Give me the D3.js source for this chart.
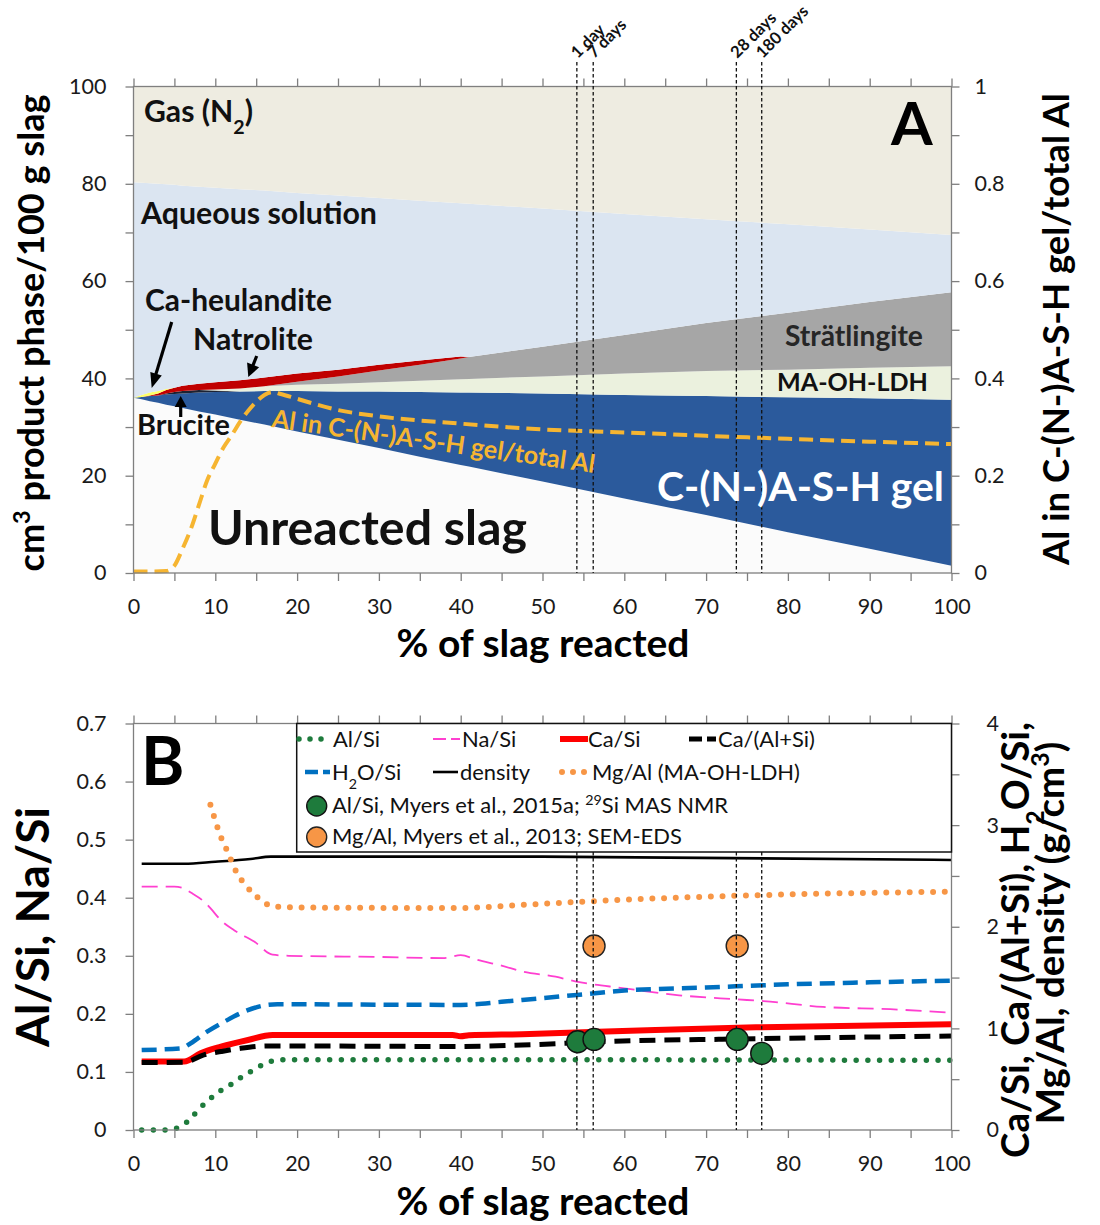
<!DOCTYPE html>
<html><head><meta charset="utf-8">
<script src="https://cdn.jsdelivr.net/npm/d3@7"></script>
<style>
body{margin:0;background:#fff}
svg{display:block}
text{font-family:Lato,'Open Sans',sans-serif}
</style>
</head><body>
<svg id="c" width="1100" height="1225"></svg>
<script>
// ---------------- DATA: panel A (cm3 / 100 g slag, stacked volumes) ----------------
const pctReacted    = [0,1,2,3,4,5,6,8,10,13,16,20,25,30,35,40,41,50,60,70,80,90,100];
const unreactedSlag = [36.0,35.7,35.3,35.0,34.6,34.3,33.9,33.2,32.6,31.5,30.5,29.1,27.4,25.7,23.9,22.2,21.9,18.8,15.3,11.9,8.4,5.0,1.5];
const cnashGel      = [0,0.5,1.1,1.5,2.1,2.5,3.0,3.9,4.6,5.8,6.9,8.3,9.9,11.6,13.3,14.9,15.2,18.1,21.3,24.5,27.7,30.9,34.1];
const brucite       = [0,0,0,0,0.2,0.4,0.5,0.5,0.3,0,0,0,0,0,0,0,0,0,0,0,0,0,0];
const maOhLdh       = [0,0,0,0,0,0,0,0,0.2,0.6,1.0,1.3,1.6,1.9,2.3,2.7,2.8,3.5,4.4,5.1,5.7,6.3,6.9];
const stratlingite  = [0,0,0,0,0,0,0,0,0,0,0,0.6,1.5,2.4,3.3,4.3,4.5,6.1,7.9,9.9,11.7,13.5,15.2];
const natrolite     = [0,0,0.1,0.4,0.7,0.9,1.1,1.3,1.5,1.7,1.8,1.7,1.4,1.2,0.9,0.4,0,0,0,0,0,0,0];
const caHeulandite  = [0,0.4,0.6,0.5,0.2,0,0,0,0,0,0,0,0,0,0,0,0,0,0,0,0,0,0];
const aqueousSol    = [44.3,43.6,43.0,42.6,42.1,41.7,41.1,40.5,40.0,39.3,38.4,37.1,35.8,34.3,32.8,31.5,31.5,28.4,24.9,21.3,18.2,14.9,11.8];
const gasN2         = [19.7,19.8,19.9,20.0,20.1,20.2,20.4,20.6,20.8,21.1,21.4,21.9,22.4,22.9,23.5,24.0,24.1,25.1,26.2,27.3,28.3,29.4,30.5];

// Al in C-(N-)A-S-H gel / total Al (right axis)
const alFracX = [0,2,4,5,6,7,8,9,10,11,12,13,14,15,16,17,18,20,25,30,40,50,60,70,80,90,100];
const alFracY = [0.003,0.003,0.004,0.015,0.05,0.09,0.14,0.19,0.225,0.258,0.283,0.31,0.333,0.352,0.366,0.372,0.368,0.358,0.335,0.322,0.307,0.295,0.289,0.282,0.276,0.27,0.265];

// curing times
const dayPct    = [54.2,56.2,73.7,76.8];
const dayLabels = ['1 day','7 days','28 days','180 days'];

// ---------------- DATA: panel B ----------------
const alSiX = [1,4,5,6,7,8,9,10,11,12,13,14,15,16,17,18,40,100];
const alSiY = [0,0,0.002,0.008,0.02,0.036,0.049,0.061,0.071,0.079,0.089,0.098,0.106,0.114,0.119,0.121,0.121,0.12];
const naSiX = [1,5,6,7,8.8,9.4,10.7,12.3,14.8,17,19,30,38,40,42,45,47.5,51.6,54,60,66.7,73.7,77,84.3,92.5,100];
const naSiY = [0.419,0.419,0.417,0.409,0.391,0.382,0.361,0.344,0.324,0.302,0.3,0.298,0.296,0.301,0.293,0.283,0.273,0.264,0.256,0.244,0.232,0.225,0.222,0.212,0.208,0.202];
const h2oSiX = [1,5.8,7,9,11.1,13.5,16.4,17.6,40,45,47.5,54.2,60,70,80,90,100];
const h2oSiY = [0.787,0.804,0.854,0.968,1.066,1.164,1.231,1.237,1.231,1.261,1.279,1.329,1.372,1.402,1.433,1.453,1.47];
const caSiX = [1,6.2,8.2,10.7,14,17,39,40,41,47.5,63.8,76.1,100];
const caSiY = [0.673,0.673,0.755,0.82,0.886,0.935,0.935,0.923,0.933,0.943,0.985,1.01,1.04];
const caAlSiX = [1,6.2,8.6,10.7,13.1,16.4,40,47.5,59.8,72,88.4,100];
const caAlSiY = [0.663,0.666,0.739,0.772,0.804,0.827,0.822,0.836,0.876,0.893,0.913,0.925];
const densX = [1,6.2,10,14.3,16.8,50,100];
const densY = [2.62,2.62,2.64,2.667,2.69,2.69,2.657];
const mgAlX = [9.4,9.9,10.3,10.9,11.5,12.1,12.7,13.5,14.6,15.8,17,20,35,40,47.5,59.8,76.1,100];
const mgAlY = [3.2,3.07,2.97,2.84,2.74,2.62,2.52,2.43,2.33,2.25,2.2,2.19,2.185,2.185,2.215,2.265,2.31,2.345];
// experimental points
const nmrX = [54.3,56.3,73.8,76.8];
const nmrAlSi = [0.152,0.156,0.156,0.132];
const edsX = [56.3,73.8];
const edsMgAl = [1.81,1.81];

// ---------------- DRAWING ----------------
const F = "Lato, 'Open Sans', sans-serif";
const svg = d3.select('#c');
svg.append('rect').attr('width',1100).attr('height',1225).attr('fill','#fff');

function fitLen(t, len){
  const l = t.node().getComputedTextLength();
  const fs = parseFloat(t.attr('font-size'));
  t.attr('font-size', (fs*len/l).toFixed(2));
  return parseFloat(t.attr('font-size'));
}
function label(g, txt, x, y, opts={}){
  const t = g.append('text').attr('x',x).attr('y',y).attr('font-family',F)
    .attr('font-size',opts.size||20).attr('font-weight',opts.weight||'bold')
    .attr('fill',opts.fill||'#111').attr('text-anchor',opts.anchor||'start');
  if (opts.rot!==undefined) t.attr('transform',`rotate(${opts.rot},${x},${y})`);
  if (Array.isArray(txt)) {
    txt.forEach(p=>{
      const s = t.append('tspan').text(p.t);
      if (p.sub) s.attr('font-size','0.65em').attr('baseline-shift','sub');
      if (p.sup) s.attr('font-size','0.65em').attr('baseline-shift','super');
    });
  } else t.text(txt);
  if (opts.len) fitLen(t, opts.len);
  return t;
}
function arrow(g,x1,y1,x2,y2,w,hl,hw){
  const dx=x2-x1, dy=y2-y1, L=Math.hypot(dx,dy), ux=dx/L, uy=dy/L;
  const bx=x2-ux*hl, by=y2-uy*hl;
  g.append('line').attr('x1',x1).attr('y1',y1).attr('x2',bx+ux*1).attr('y2',by+uy*1)
    .attr('stroke','#000').attr('stroke-width',w);
  g.append('path').attr('d',`M${x2},${y2}L${bx-uy*hw/2},${by+ux*hw/2}L${bx+uy*hw/2},${by-ux*hw/2}Z`).attr('fill','#000');
}
function styleAxis(a, fs){
  a.select('.domain').remove();
  a.selectAll('.tick line').attr('stroke','#7f7f7f').attr('stroke-width',1.3);
  a.selectAll('.tick text').attr('font-family',F).attr('font-size',fs).attr('fill','#1a1a1a');
}

const x = d3.scaleLinear().domain([0,100]).range([133.5,951.5]);

// ===== Panel A =====
const yA  = d3.scaleLinear().domain([0,100]).range([573,86.5]);
const yAR = d3.scaleLinear().domain([0,1]).range([573,86.5]);
const gA = svg.append('g');

const rowsA = pctReacted.map((p,i)=>({p, slag:unreactedSlag[i], gel:cnashGel[i], bru:brucite[i],
  ldh:maOhLdh[i], strat:stratlingite[i], natro:natrolite[i], heul:caHeulandite[i], aq:aqueousSol[i], gas:gasN2[i]}));
const keysA = ['slag','gel','bru','ldh','strat','natro','heul','aq','gas'];
const colA = {slag:'#fbfbfb', gel:'#2b5a9c', bru:'#1c2233', ldh:'#ebf1de', strat:'#a6a6a6',
  natro:'#c00000', heul:'#ffff66', aq:'#dbe5f1', gas:'#eeece1'};
const stacked = d3.stack().keys(keysA)(rowsA);
const areaA = d3.area().x(d=>x(d.data.p)).y0(d=>yA(d[0])).y1(d=>yA(d[1]));
gA.selectAll('path.layer').data(stacked).join('path').attr('class','layer')
  .attr('d',areaA).attr('fill',d=>colA[d.key]);

// Al fraction dashed line
gA.append('path').datum(alFracX.map((p,i)=>[p,alFracY[i]]))
  .attr('d', d3.line().x(d=>x(d[0])).y(d=>yAR(d[1])).curve(d3.curveMonotoneX))
  .attr('fill','none').attr('stroke','#f6b531').attr('stroke-width',4).attr('stroke-dasharray','14,7');

// axes A
styleAxis(gA.append('g').attr('transform','translate(0,573)')
  .call(d3.axisBottom(x).tickValues(d3.range(0,101,5)).tickSize(8).tickPadding(18)
  .tickFormat(d=> d%10===0 ? d : '')), 21.5);
styleAxis(gA.append('g').attr('transform','translate(0,86.5)')
  .call(d3.axisTop(x).tickValues(d3.range(0,101,5)).tickSize(8).tickFormat('')), 21.5);
styleAxis(gA.append('g').attr('transform','translate(133.5,0)')
  .call(d3.axisLeft(yA).tickValues(d3.range(0,101,10)).tickSize(8).tickPadding(19)
  .tickFormat(d=> d%20===0 ? d : '')), 21.5);
styleAxis(gA.append('g').attr('transform','translate(951.5,0)')
  .call(d3.axisRight(yAR).tickValues(d3.range(0,11).map(i=>i/10)).tickSize(8).tickPadding(15)
  .tickFormat(d=> { const k=Math.round(d*10); return k%2===0 ? (k===0?'0':k===10?'1':d.toFixed(1)) : ''; })), 21.5);
gA.append('rect').attr('x',133.5).attr('y',86.5).attr('width',818).attr('height',486.5)
  .attr('fill','none').attr('stroke','#7f7f7f').attr('stroke-width',1.3);

// day lines A
dayPct.forEach((d,i)=>{
  gA.append('line').attr('x1',x(d)).attr('x2',x(d)).attr('y1',62).attr('y2',573)
    .attr('stroke','#111').attr('stroke-width',1.3).attr('stroke-dasharray','3.5,2.5');
  label(gA, dayLabels[i], x(d)+1, 59, {size:16.5, rot:-45, fill:'#111'});
});

// labels in panel A
label(gA, [{t:'Gas (N'},{t:'2',sub:true},{t:')'}], 144, 122, {size:26, len:109});
label(gA, 'Aqueous solution', 141, 224, {size:26, len:236});
label(gA, 'Ca-heulandite', 145, 311, {size:26, len:187});
label(gA, 'Natrolite', 193, 350, {size:26, len:120});
label(gA, 'Brucite', 137, 435, {size:26, len:93});
label(gA, 'Strätlingite', 785, 346, {size:22, len:138, fill:'#262626'});
label(gA, 'MA-OH-LDH', 777, 391, {size:22, len:151, fill:'#111'});
label(gA, 'Al in C-(N-)A-S-H gel/total Al', 271, 427, {size:19, len:326, fill:'#f6b531', rot:8.1});
label(gA, 'C-(N-)A-S-H gel', 657, 501, {size:38, len:287, fill:'#fff'});
label(gA, 'Unreacted slag', 208, 545, {size:40, len:319, fill:'#111'});
label(gA, 'A', 891, 145, {size:60, fill:'#000'});

arrow(gA, 171.7, 322, 151.7, 388, 3.2, 15, 12);
arrow(gA, 256.7, 356, 248.3, 377, 3.2, 13, 13);
arrow(gA, 180.7, 417, 180.7, 396, 3.2, 11, 12);

// axis titles A
label(svg, [{t:'cm'},{t:'3',sup:true},{t:' product phase/100 g slag'}], 44, 333, {size:31, len:477, anchor:'middle', rot:-90, fill:'#000'});
label(svg, 'Al in C-(N-)A-S-H gel/total Al', 1069, 329, {size:31, len:472, anchor:'middle', rot:-90, fill:'#000'});
label(svg, '% of slag reacted', 543, 657, {size:31, len:293, anchor:'middle', fill:'#000'});

// ===== Panel B =====
const yB  = d3.scaleLinear().domain([0,0.7]).range([1130,723.5]);
const yBR = d3.scaleLinear().domain([0,4]).range([1130,723.5]);
const gB = svg.append('g');

const seriesB = [
  {xs:densX,  ys:densY,   sc:yBR, color:'#000',    w:2.6, dash:null},
  {xs:mgAlX,  ys:mgAlY,   sc:yBR, color:'#f79646', w:6,   dash:'0,11.7', cap:'round'},
  {xs:naSiX,  ys:naSiY,   sc:yB,  color:'#ff3fd0', w:1.8, dash:'16,8'},
  {xs:h2oSiX, ys:h2oSiY,  sc:yBR, color:'#0070c0', w:4.5, dash:'15,8'},
  {xs:caSiX,  ys:caSiY,   sc:yBR, color:'#ff0000', w:6,   dash:null},
  {xs:caAlSiX,ys:caAlSiY, sc:yBR, color:'#000',    w:5,   dash:'16,9'},
  {xs:alSiX,  ys:alSiY,   sc:yB,  color:'#1e7b3c', w:5.5, dash:'0,11.7', cap:'round'}
];
seriesB.forEach(s=>{
  gB.append('path').datum(s.xs.map((p,i)=>[p,s.ys[i]]))
    .attr('d', d3.line().x(d=>x(d[0])).y(d=>s.sc(d[1])).curve(d3.curveMonotoneX))
    .attr('fill','none').attr('stroke',s.color).attr('stroke-width',s.w)
    .attr('stroke-dasharray',s.dash).attr('stroke-linecap',s.cap||'butt');
});

// axes B
styleAxis(gB.append('g').attr('transform','translate(0,1130)')
  .call(d3.axisBottom(x).tickValues(d3.range(0,101,5)).tickSize(8).tickPadding(18)
  .tickFormat(d=> d%10===0 ? d : '')), 21.5);
styleAxis(gB.append('g').attr('transform','translate(0,723.5)')
  .call(d3.axisTop(x).tickValues(d3.range(0,101,5)).tickSize(8).tickFormat('')), 21.5);
styleAxis(gB.append('g').attr('transform','translate(133.5,0)')
  .call(d3.axisLeft(yB).tickValues(d3.range(0,8).map(i=>i/10)).tickSize(8).tickPadding(19)
  .tickFormat(d=> d===0?'0':d.toFixed(1))), 21.5);
styleAxis(gB.append('g').attr('transform','translate(951.5,0)')
  .call(d3.axisRight(yBR).tickValues(d3.range(0,9).map(i=>i/2)).tickSize(8).tickPadding(27)
  .tickFormat(d=> Number.isInteger(d) ? d : '')), 21.5);
gB.append('rect').attr('x',133.5).attr('y',723.5).attr('width',818).attr('height',406.5)
  .attr('fill','none').attr('stroke','#7f7f7f').attr('stroke-width',1.3);

// experimental points and day lines
gB.selectAll('circle.eds').data(edsX).join('circle').attr('class','eds')
  .attr('cx',d=>x(d)).attr('cy',(d,i)=>yBR(edsMgAl[i])).attr('r',11)
  .attr('fill','#f79646').attr('stroke','#222').attr('stroke-width',1.4);
dayPct.forEach(d=>{
  gB.append('line').attr('x1',x(d)).attr('x2',x(d)).attr('y1',852).attr('y2',1130)
    .attr('stroke','#111').attr('stroke-width',1.3).attr('stroke-dasharray','3.5,2.5');
});
gB.selectAll('circle.nmr').data(nmrX).join('circle').attr('class','nmr')
  .attr('cx',d=>x(d)).attr('cy',(d,i)=>yB(nmrAlSi[i])).attr('r',11)
  .attr('fill','#1e7b3c').attr('stroke','#111').attr('stroke-width',1.4);

// legend
const lg = gB.append('g');
lg.append('rect').attr('x',296.7).attr('y',723.5).attr('width',951.5-296.7).attr('height',852-723.5)
  .attr('fill','#fff').attr('stroke','#111').attr('stroke-width',1.5);
const lgFsEl = label(lg, 'Mg/Al (MA-OH-LDH)', 592, 780, {size:22, weight:'normal', fill:'#111', len:208});
const lfs = parseFloat(lgFsEl.attr('font-size'));
const legendItems = [
  {s:6, x0:299, x1:325, y:739, tx:333, ty:747, txt:[{t:'Al/Si'}]},
  {s:2, x0:433, x1:460, y:739, tx:462, ty:747, txt:[{t:'Na/Si'}]},
  {s:4, x0:560, x1:588, y:739, tx:588, ty:747, txt:[{t:'Ca/Si'}]},
  {s:5, x0:689, x1:716, y:739, tx:718, ty:747, txt:[{t:'Ca/(Al+Si)'}]},
  {s:3, x0:305, x1:330, y:772, tx:332, ty:780, txt:[{t:'H'},{t:'2',sub:true},{t:'O/Si'}]},
  {s:0, x0:433, x1:458, y:772, tx:460, ty:780, txt:[{t:'density'}]},
  {s:1, x0:562, x1:585, y:772, tx:null}
];
legendItems.forEach(it=>{
  const s = seriesB[it.s];
  lg.append('line').attr('x1',it.x0).attr('x2',it.x1).attr('y1',it.y).attr('y2',it.y)
    .attr('stroke',s.color).attr('stroke-width',s.w).attr('stroke-linecap',s.cap||'butt')
    .attr('stroke-dasharray', s.dash ? (s.cap ? '0,11' : '13,5') : null);
  if (it.tx!==null) label(lg, it.txt, it.tx, it.ty, {size:lfs, weight:'normal', fill:'#111'});
});
lg.append('circle').attr('cx',316.7).attr('cy',806).attr('r',10).attr('fill','#1e7b3c').attr('stroke','#111').attr('stroke-width',1.4);
label(lg, [{t:'Al/Si, Myers et al., 2015a; '},{t:'29',sup:true},{t:'Si MAS NMR'}], 332, 813, {size:lfs, weight:'normal', fill:'#111'});
lg.append('circle').attr('cx',316.7).attr('cy',837).attr('r',10).attr('fill','#f79646').attr('stroke','#222').attr('stroke-width',1.4);
label(lg, 'Mg/Al, Myers et al., 2013; SEM-EDS', 332, 844, {size:lfs, weight:'normal', fill:'#111'});

label(gB, 'B', 141, 785, {size:66, fill:'#000'});

// axis titles B
label(svg, 'Al/Si, Na/Si', 49, 927, {size:32, len:240, anchor:'middle', rot:-90, fill:'#000'});
const r1 = label(svg, [{t:'Ca/Si, Ca/(Al+Si), H'},{t:'2',sub:true},{t:'O/Si,'}], 1029, 940, {size:30, len:436, anchor:'middle', rot:-90, fill:'#000'});
label(svg, [{t:'Mg/Al, density (g/cm'},{t:'3',sup:true},{t:')'}], 1064, 933, {size:parseFloat(r1.attr('font-size')), anchor:'middle', rot:-90, fill:'#000'});
label(svg, '% of slag reacted', 543, 1215, {size:31, len:293, anchor:'middle', fill:'#000'});
</script>
</body></html>
